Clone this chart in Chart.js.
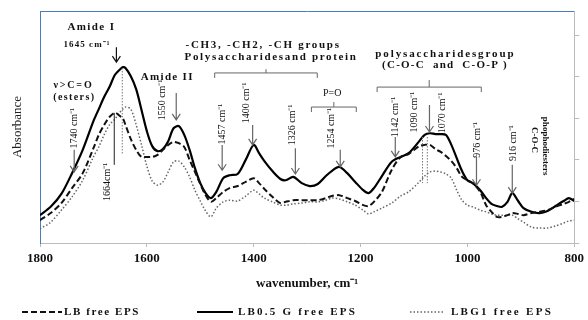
<!DOCTYPE html>
<html>
<head>
<meta charset="utf-8">
<script src="https://cdn.jsdelivr.net/npm/chart.js@4.4.1/dist/chart.umd.min.js"></script>
<style>
  html, body { margin: 0; padding: 0; background: #fff; }
  #wrap { width: 588px; height: 320px; }
</style>
</head>
<body>
<div id="wrap"><canvas id="ftirChart" width="588" height="320"></canvas></div>
<script>
// wavenumber (cm-1) of every sample
const wavenumbers = [1800,1780,1760,1740,1720,1700,1690,1680,1670,1660,
  1650,1645,1640,1630,1620,1610,1600,1590,1580,1570,
  1560,1550,1540,1530,1520,1510,1500,1490,1480,1470,
  1457,1445,1430,1415,1400,1390,1380,1365,1350,1340,
  1326,1310,1295,1280,1265,1254,1240,1225,1210,1195,
  1185,1175,1160,1142,1125,1110,1090,1080,1070,1060,
  1050,1040,1030,1020,1010,1000,990,976,965,955,
  945,935,925,916,905,895,880,865,850,835,
  820,810,800];

// absorbance, LB free EPS (dashed)
const lbFree = [0.55,0.72,0.96,1.32,1.68,2.28,2.60,2.84,3.03,3.13,
  3.05,3.00,2.84,2.50,2.24,2.07,2.07,2.07,2.12,2.24,
  2.36,2.43,2.40,2.31,2.00,1.71,1.42,1.15,0.99,1.08,
  1.23,1.32,1.37,1.47,1.56,1.44,1.30,1.11,0.96,0.99,
  1.03,1.03,1.03,1.03,1.08,1.13,1.15,1.08,1.01,0.91,
  0.89,0.99,1.23,1.75,2.07,2.14,2.33,2.36,2.36,2.26,
  2.19,2.09,1.97,1.80,1.59,1.51,1.44,1.23,0.91,0.75,
  0.63,0.63,0.67,0.72,0.70,0.67,0.72,0.75,0.79,0.87,
  0.94,0.99,1.06];

// absorbance, LB0.5 G free EPS (solid)
const lb05G = [0.67,0.87,1.18,1.68,2.24,2.93,3.22,3.51,3.75,4.04,
  4.18,4.23,4.21,4.01,3.70,3.20,2.69,2.33,2.21,2.26,
  2.45,2.76,2.81,2.60,2.24,1.80,1.44,1.20,1.08,1.23,
  1.56,1.63,1.66,2.00,2.36,2.16,1.97,1.73,1.54,1.51,
  1.59,1.44,1.37,1.42,1.61,1.73,1.83,1.68,1.47,1.27,
  1.20,1.32,1.61,1.95,2.07,2.16,2.45,2.60,2.64,2.62,
  2.62,2.60,2.36,2.04,1.73,1.51,1.44,1.27,1.08,0.94,
  0.89,0.87,0.99,1.20,1.01,0.84,0.75,0.72,0.77,0.89,
  1.01,1.08,1.01];

// absorbance, LBG1 free EPS (dotted)
const lbG1 = [0.34,0.50,0.79,1.11,1.51,2.07,2.31,2.60,2.84,2.98,
  3.15,3.22,3.27,3.22,2.84,2.36,1.85,1.49,1.39,1.47,
  1.71,1.95,1.97,1.83,1.59,1.27,1.01,0.77,0.63,0.84,
  0.99,1.03,1.01,1.13,1.27,1.18,1.08,0.99,0.91,0.91,
  0.94,0.96,0.99,0.99,1.03,1.08,1.06,0.99,0.91,0.79,
  0.70,0.75,0.84,0.96,1.13,1.23,1.47,1.61,1.71,1.73,
  1.71,1.66,1.56,1.27,1.03,0.91,0.87,0.79,0.75,0.70,
  0.67,0.67,0.67,0.67,0.58,0.50,0.38,0.36,0.36,0.41,
  0.48,0.53,0.55];

const seriesNames = ["LB free EPS", "LB0.5 G free EPS", "LBG1 free EPS"];
const xTickValues = [1800, 1600, 1400, 1200, 1000, 800];

// annotations, placed in (wavenumber, absorbance)
const boldNotes = [
  // text, wn, abs, font px, width
  ["Amide I", 1705, 5.19, 11, 48],
  ["1645 cm\u207B\u00B9", 1713, 4.78, 9, 47],
  ["\u03BD>C=O", 1739, 3.80, 10, 40],
  ["(esters)", 1737, 3.49, 10, 42],
  ["Amide II", 1563, 3.99, 11, 53],
  ["-CH3, -CH2, -CH groups", 1384, 4.76, 11, 155],
  ["Polysaccharidesand protein", 1369, 4.47, 11, 173],
  ["polysaccharidesgroup", 1043, 4.54, 11, 140],
  ["(C-O-C  and  C-O-P )", 1043, 4.28, 11, 126]
];
const peakLabels = [
  ["1740 cm\u207B\u00B9", 1735, 2.76],
  ["1664cm\u207B\u00B9", 1674, 1.47],
  ["1550 cm\u207B\u00B9", 1571, 3.44],
  ["1457 cm\u207B\u00B9", 1459, 2.86],
  ["1400 cm\u207B\u00B9", 1414, 3.37],
  ["1326 cm\u207B\u00B9", 1328, 2.84],
  ["1254 cm\u207B\u00B9", 1255, 2.76],
  ["1142 cm\u207B\u00B9", 1135, 3.03],
  ["1090 cm\u207B\u00B9", 1099, 3.15],
  ["1070 cm\u207B\u00B9", 1047, 3.13],
  ["976 cm\u207B\u00B9", 982, 2.48],
  ["916 cm\u207B\u00B9", 914, 2.40]
];
const arrows = [
  [1657, 4.71, 4.35],
  [1736, 2.24, 1.71],
  [1545, 3.61, 2.96],
  [1459, 2.36, 1.75],
  [1402, 2.84, 2.36],
  [1322, 2.28, 1.66],
  [1238, 2.24, 1.83],
  [1135, 2.55, 2.07],
  [1071, 3.32, 2.67],
  [983, 2.07, 1.39],
  [916, 1.88, 1.20]
];
const brackets = [
  // from, to, bar, tip
  [1473, 1281, 4.09, 4.18],
  [1292, 1208, 3.27, 3.39],
  [1169, 974, 3.75, 3.92]
];

function pairs(values) {
  return wavenumbers.map((w, i) => ({ x: w, y: values[i] }));
}

function fitText(ctx, text, cx, cy, width) {
  ctx.letterSpacing = "0px";
  const w = ctx.measureText(text).width;
  const gap = Math.max(0, (width - w) / text.length);
  ctx.letterSpacing = gap.toFixed(2) + "px";
  ctx.fillText(text, cx + gap / 2, cy);
  ctx.letterSpacing = "0px";
}

const notesPlugin = {
  id: "notes",
  afterDatasetsDraw(chart) {
    const { ctx, scales } = chart;
    const px = v => scales.x.getPixelForValue(v);
    const py = v => scales.y.getPixelForValue(v);
    ctx.save();
    ctx.textAlign = "center";
    ctx.textBaseline = "middle";
    ctx.fillStyle = "#111";

    // bold group labels
    boldNotes.forEach(n => {
      ctx.font = "bold " + n[3] + "px 'Liberation Serif', serif";
      fitText(ctx, n[0], px(n[1]), py(n[2]), n[4]);
    });
    ctx.font = "10px 'Liberation Serif', serif";
    ctx.fillText("P=O", px(1253), py(3.61));

    // vertical peak labels
    ctx.font = "10px 'Liberation Serif', serif";
    peakLabels.forEach(p => {
      ctx.save();
      ctx.translate(px(p[1]), py(p[2]));
      ctx.rotate(-Math.PI / 2);
      ctx.fillText(p[0], 0, 0);
      ctx.restore();
    });

    // phosphodiester note, reads top to bottom
    ctx.font = "bold 9px 'Liberation Serif', serif";
    [["phophodiesters", 854, 2.33], ["C-O-C", 875, 2.48]].forEach(p => {
      ctx.save();
      ctx.translate(px(p[1]), py(p[2]));
      ctx.rotate(Math.PI / 2);
      ctx.fillText(p[0], 0, 0);
      ctx.restore();
    });

    // arrows
    ctx.lineWidth = 1.2;
    arrows.forEach((a, i) => {
      ctx.strokeStyle = i === 0 ? "#111" : "#666";
      const x = px(a[0]), y1 = py(a[1]), y2 = py(a[2]);
      ctx.beginPath();
      ctx.moveTo(x, y1);
      ctx.lineTo(x, y2);
      ctx.moveTo(x - 4, y2 - 6);
      ctx.lineTo(x, y2);
      ctx.lineTo(x + 4, y2 - 6);
      ctx.stroke();
    });

    // brackets
    ctx.strokeStyle = "#666";
    ctx.lineWidth = 1;
    brackets.forEach(b => {
      const x1 = px(b[0]), x2 = px(b[1]), y = py(b[2]);
      ctx.beginPath();
      ctx.moveTo(x1, y + 5);
      ctx.lineTo(x1, y);
      ctx.lineTo(x2, y);
      ctx.lineTo(x2, y + 5);
      ctx.moveTo((x1 + x2) / 2, y);
      ctx.lineTo((x1 + x2) / 2, py(b[3]));
      ctx.stroke();
    });

    // peak position guides
    ctx.strokeStyle = "#222";
    ctx.beginPath();
    ctx.moveTo(px(1661), py(3.13));
    ctx.lineTo(px(1661), py(1.88));
    ctx.stroke();
    ctx.strokeStyle = "#777";
    ctx.setLineDash([1.5, 1.5]);
    ctx.beginPath();
    ctx.moveTo(px(1646), py(4.21));
    ctx.lineTo(px(1646), py(2.12));
    [1084, 1075].forEach(w => {
      ctx.moveTo(px(w), py(2.55));
      ctx.lineTo(px(w), py(1.44));
    });
    ctx.stroke();
    ctx.setLineDash([]);

    // legend
    const spots = [[22, 40, 64, 76], [197, 36, 238, 119], [410, 35, 451, 102]];
    const ly = 312;
    chart.data.datasets.forEach((ds, i) => {
      const s = spots[i];
      ctx.strokeStyle = ds.borderColor;
      ctx.lineWidth = ds.borderWidth;
      ctx.setLineDash(ds.borderDash || []);
      ctx.beginPath();
      ctx.moveTo(s[0], ly);
      ctx.lineTo(s[0] + s[1], ly);
      ctx.stroke();
      ctx.setLineDash([]);
      ctx.textAlign = "left";
      ctx.font = "bold 11px 'Liberation Serif', serif";
      ctx.fillStyle = "#111";
      ctx.letterSpacing = "0px";
      const w = ctx.measureText(ds.label).width;
      ctx.letterSpacing = Math.max(0, (s[3] - w) / ds.label.length).toFixed(2) + "px";
      ctx.fillText(ds.label, s[2], ly);
      ctx.letterSpacing = "0px";
    });
    ctx.restore();
  }
};

const edge = "#4a7ebb";

new Chart(document.getElementById("ftirChart"), {
  type: "line",
  data: {
    datasets: [
      {
        label: seriesNames[0],
        data: pairs(lbFree),
        borderColor: "#111",
        borderWidth: 2,
        borderDash: [6, 3],
        pointRadius: 0,
        tension: 0.3,
        xAxisID: "x",
        yAxisID: "y"
      },
      {
        label: seriesNames[1],
        data: pairs(lb05G),
        borderColor: "#000",
        borderWidth: 2.2,
        pointRadius: 0,
        tension: 0.3,
        xAxisID: "x",
        yAxisID: "y"
      },
      {
        label: seriesNames[2],
        data: pairs(lbG1),
        borderColor: "#666",
        borderWidth: 1.5,
        borderDash: [1.5, 2],
        pointRadius: 0,
        tension: 0.3,
        xAxisID: "x",
        yAxisID: "y"
      }
    ]
  },
  options: {
    responsive: false,
    animation: false,
    layout: { padding: { left: 0, right: 0, top: 0, bottom: 26 } },
    plugins: { legend: { display: false }, tooltip: { enabled: false } },
    scales: {
      x: {
        type: "linear",
        position: "bottom",
        reverse: true,
        min: 800,
        max: 1800,
        afterBuildTicks: s => { s.ticks = xTickValues.map(v => ({ value: v })); },
        afterFit: s => { s.height = 51; },
        grid: { drawOnChartArea: false, drawTicks: true, tickLength: 4, color: "#bbb" },
        border: { color: "#bbb" },
        ticks: {
          padding: 4,
          maxRotation: 0,
          color: "#111",
          callback: v => String(v),
          font: { family: "'Liberation Serif', serif", size: 13, weight: "bold" }
        },
        title: {
          display: true,
          text: "wavenumber, cm\u207B\u00B9",
          color: "#111",
          padding: { top: 0, bottom: 3 },
          font: { family: "'Liberation Serif', serif", size: 13, weight: "bold" }
        }
      },
      xTop: {
        type: "linear",
        position: "top",
        reverse: true,
        min: 800,
        max: 1800,
        afterFit: s => { s.height = 11; },
        grid: { drawOnChartArea: false, drawTicks: false },
        border: { color: edge },
        ticks: { display: false }
      },
      y: {
        position: "right",
        min: 0,
        max: 5.58,
        afterBuildTicks: s => { s.ticks = s.ticks.filter(t => Number.isInteger(t.value)); },
        afterFit: s => { s.width = 13; },
        grid: { drawOnChartArea: false, drawTicks: true, tickLength: 5, color: "#bbb" },
        border: { color: "#bbb" },
        ticks: { display: false, stepSize: 1 }
      },
      yLeft: {
        position: "left",
        min: 0,
        max: 5.58,
        afterFit: s => { s.width = 40; },
        grid: { drawOnChartArea: false, drawTicks: false },
        border: { color: edge },
        ticks: { display: false },
        title: {
          display: true,
          text: "Absorbance",
          color: "#222",
          padding: { top: 10, bottom: 0 },
          font: { family: "'Liberation Serif', serif", size: 13 }
        }
      }
    }
  },
  plugins: [notesPlugin]
});
</script>
</body>
</html>
